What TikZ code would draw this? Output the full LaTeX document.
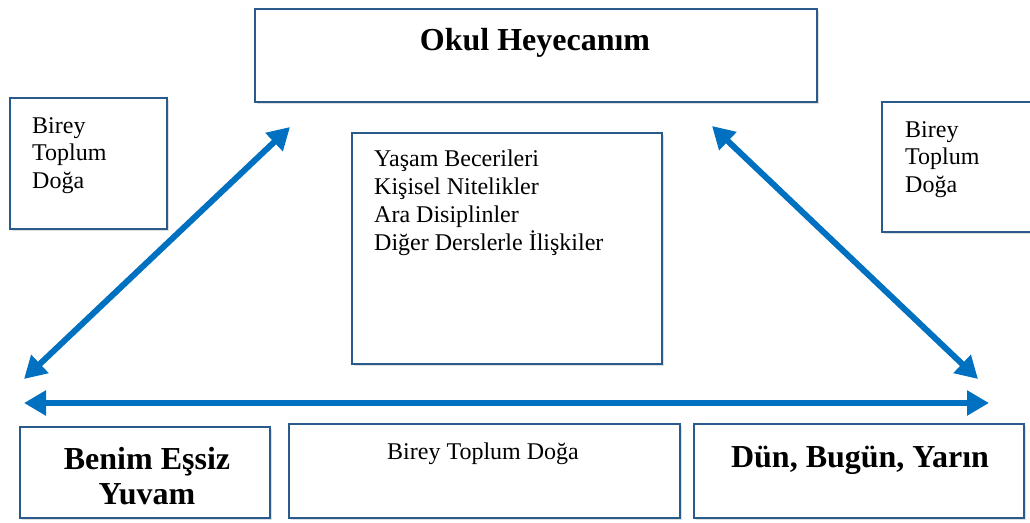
\documentclass[tikz,border=0pt]{standalone}
\usepackage{fontspec}
\setmainfont{Liberation Serif}
\usepackage{tikz}
\usetikzlibrary{arrows.meta,shadows}

\definecolor{kutumavi}{RGB}{40,90,140}
\definecolor{okmavi}{RGB}{0,112,192}

\tikzset{
  kutu/.style={draw=kutumavi, line width=1.8pt, fill=white, drop shadow={opacity=0.25}},
  ok/.style={draw=okmavi, line width=6pt, {Triangle[length=22pt,width=24pt]}-{Triangle[length=22pt,width=24pt]}},
  yazi/.style={font=\fontsize{24}{27.8}\selectfont, align=left, inner sep=0pt},
  kalin/.style={font=\fontsize{32}{35}\selectfont\bfseries, align=center, inner sep=0pt}
}

\begin{document}
\begin{tikzpicture}[x=1pt,y=-1pt]
\useasboundingbox (0,0) rectangle (1030,522);

% kutular
\node[kutu, minimum width=562pt, minimum height=93pt] (okul) at (536,55.5) {};
\node[kutu, minimum width=157pt, minimum height=131pt] (solkutu) at (88.5,163.5) {};
\node[kutu, minimum width=158pt, minimum height=130pt] (sagkutu) at (961,167) {};
\node[kutu, minimum width=310pt, minimum height=231pt] (orta) at (507,248.5) {};
\node[kutu, minimum width=250pt, minimum height=91pt] (yuva) at (145,472.5) {};
\node[kutu, minimum width=391pt, minimum height=94pt] (altorta) at (484.5,471) {};
\node[kutu, minimum width=330pt, minimum height=94pt] (dun) at (859,471) {};

% yazilar
\node[kalin] (okulyazi) at (535,43) {Okul Heyecanım};
\node[yazi, anchor=north west] (solyazi) at (32,117) {Birey\\Toplum\\Doğa};
\node[yazi, anchor=north west] (sagyazi) at (905,121) {Birey\\Toplum\\Doğa};
\node[yazi, anchor=north west] (ortayazi) at (374,150) {Yaşam Becerileri\\Kişisel Nitelikler\\Ara Disiplinler\\Diğer Derslerle İlişkiler};
\node[yazi, anchor=north] (altyazi) at (483,443) {Birey Toplum Doğa};
\node[kalin] (yuvayazi) at (147,476) {Benim Eşsiz\\Yuvam};
\node[kalin] (dunyazi) at (860,460) {Dün, Bugün, Yarın};

% oklar
\coordinate (sol1) at (290,127);
\coordinate (sol2) at (24,379);
\coordinate (sag1) at (712,126);
\coordinate (sag2) at (978,379);
\coordinate (yatay1) at (24,403);
\coordinate (yatay2) at (989,403);
\draw[ok] (sol2) -- (sol1);
\draw[ok] (sag1) -- (sag2);
\draw[ok] (yatay1) -- (yatay2);
\end{tikzpicture}
\end{document}
